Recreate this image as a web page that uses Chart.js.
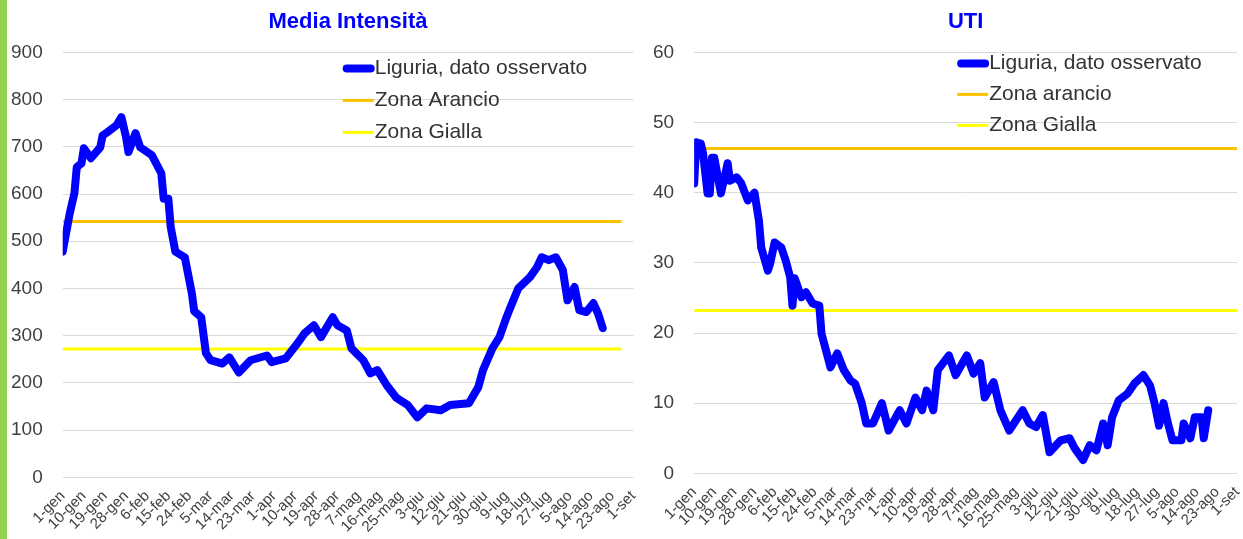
<!DOCTYPE html>
<html>
<head>
<meta charset="utf-8">
<script src="https://cdn.jsdelivr.net/npm/chart.js@4/dist/chart.umd.min.js"></script>
<style>
  html, body { margin: 0; padding: 0; background: #fff; overflow: hidden; }
  body { width: 1243px; height: 539px; position: relative; }
  .bar { position: absolute; left: 0; top: 0; width: 7px; height: 539px; background: #92d050; z-index: 5; }
  .box { position: absolute; top: 0; height: 539px; }
  #left { left: -11px; width: 659px; }
  #right { left: 626px; width: 626px; }
</style>
</head>
<body>
<div class="bar"></div>
<div class="box" id="left"><canvas id="intensita"></canvas></div>
<div class="box" id="right"><canvas id="uti"></canvas></div>
<script>
// tick labels, one every 9 days from 1 Jan (day 0) to 1 Sep (day 243)
const tickLabels = ['1-gen','10-gen','19-gen','28-gen','6-feb','15-feb','24-feb','5-mar','14-mar','23-mar',
  '1-apr','10-apr','19-apr','28-apr','7-mag','16-mag','25-mag','3-giu','12-giu','21-giu','30-giu',
  '9-lug','18-lug','27-lug','5-ago','14-ago','23-ago','1-set'];

// Media Intensità, observed (day index -> value)
const intDays = [0,3,5,6,8,9,12,16,17,19,23,25,27,28,31,33,38,42,43,45,46,48,52,55,56,59,61,63,68,71,75,80,
  87,89,95,100,103,107,110,115,117,121,123,128,131,134,138,142,147,151,155,161,165,173,177,179,183,186,
  189,191,194,199,202,204,207,210,213,215,218,220,223,226,228,230];
const intValues = [478,559,602,657,665,697,676,699,724,731,746,763,720,689,729,699,682,644,590,590,530,478,466,390,352,339,263,248,241,254,222,248,
  258,244,252,284,305,322,297,339,322,311,273,248,220,227,195,169,153,127,146,142,153,157,191,227,273,297,
  339,364,400,424,445,466,460,466,439,375,403,354,350,369,347,316];
const intArancio = 542;
const intGialla = 272;

// UTI, observed
const utiDays = [0,1,3,4,6,7,8,9,12,15,16,19,21,24,27,29,30,33,34,36,39,41,43,44,45,48,50,53,56,57,59,61,64,67,70,72,
  75,77,80,84,87,92,95,99,102,104,107,109,114,117,122,125,128,130,134,137,141,147,150,153,156,159,164,168,170,174,
  177,180,183,185,187,190,194,197,201,204,206,208,210,212,214,218,219,222,224,227,228,230];
const utiValues = [41.3,47.2,47,45.6,39.9,39.9,45,45,39.9,44.2,41.7,42.2,41.4,38.9,40,36,32.2,28.9,29.9,32.9,32.2,30.3,27.9,23.9,27.8,25.1,25.8,24.2,23.9,19.9,17.5,15.1,17.1,14.7,13.2,12.8,
  10,7.1,7.1,10,6.1,9,7.1,10.8,9,11.8,9,14.7,16.8,14,16.8,14.2,15.7,10.8,13,9,6.1,9,7.1,6.6,8.3,3,4.7,5,3.7,1.9,
  4,3.3,7.1,4,8,10.4,11.4,12.8,14,12.5,10,6.8,10,7.1,4.7,4.7,7.1,5,8,8,5,9];
const utiArancio = 46.3;
const utiGialla = 23.2;

const FONT = '"Liberation Sans", Arial, sans-serif';

// legend drawn inside the plot area, top right
const insideLegend = {
  id: 'insideLegend',
  afterDatasetsDraw(chart, args, opts) {
    const { ctx, chartArea } = chart;
    const x = chartArea.left + opts.x;
    let y = chartArea.top + opts.y;
    ctx.save();
    ctx.font = '21px ' + FONT;
    ctx.textBaseline = 'middle';
    ctx.textAlign = 'left';
    chart.data.datasets.forEach(ds => {
      const thick = ds.borderWidth > 4;
      ctx.strokeStyle = ds.borderColor;
      ctx.lineWidth = ds.borderWidth;
      ctx.lineCap = thick ? 'round' : 'butt';
      ctx.beginPath();
      ctx.moveTo(x + (thick ? 4 : 0), y);
      ctx.lineTo(x + (thick ? 28 : 31), y);
      ctx.stroke();
      ctx.fillStyle = '#333';
      ctx.fillText(ds.label, x + 32, y);
      y += opts.row;
    });
    ctx.restore();
  }
};

function pts(days, values) {
  return days.map((d, i) => ({ x: d, y: values[i] }));
}

function makeChart(id, title, observed, arancio, gialla, lineEnd, labels, yMax, yStep, legend, pad) {
  return new Chart(document.getElementById(id), {
    type: 'line',
    data: {
      datasets: [
        {
          label: 'Liguria, dato osservato',
          data: observed,
          borderColor: '#0000ff',
          borderWidth: 8,
          borderJoinStyle: 'round',
          borderCapStyle: 'round',
          pointRadius: 0,
          tension: 0
        },
        {
          label: labels[0],
          data: [{ x: 0, y: arancio }, { x: lineEnd, y: arancio }],
          borderColor: '#ffc000',
          borderWidth: 3,
          pointRadius: 0
        },
        {
          label: labels[1],
          data: [{ x: 0, y: gialla }, { x: lineEnd, y: gialla }],
          borderColor: '#ffff00',
          borderWidth: 3,
          pointRadius: 0
        }
      ]
    },
    options: {
      responsive: true,
      maintainAspectRatio: false,
      animation: false,
      layout: { padding: pad },
      plugins: {
        legend: { display: false },
        tooltip: { enabled: false },
        title: {
          display: true,
          text: title,
          fullSize: false,
          color: '#0000ff',
          font: { family: FONT, size: 22, weight: 'bold' },
          padding: { top: 9, bottom: 17 }
        },
        insideLegend: legend
      },
      scales: {
        x: {
          type: 'linear',
          min: 0,
          max: 243,
          grid: { display: false },
          border: { display: false },
          ticks: {
            stepSize: 9,
            autoSkip: false,
            minRotation: 45,
            maxRotation: 45,
            padding: 2,
            color: '#404040',
            font: { family: FONT, size: 15 },
            callback: v => tickLabels[v / 9] ?? ''
          }
        },
        y: {
          min: 0,
          max: yMax,
          grid: { color: '#d9d9d9', drawTicks: false },
          border: { display: false },
          ticks: {
            stepSize: yStep,
            padding: 20,
            color: '#404040',
            font: { family: FONT, size: 19 }
          }
        }
      }
    },
    plugins: [insideLegend]
  });
}

makeChart('intensita', 'Media Intensità', pts(intDays, intValues), intArancio, intGialla, 238,
  ['Zona Arancio', 'Zona Gialla'], 900, 100, { x: 280, y: 16, row: 32 },
  { left: 2, right: 3, top: 0, bottom: 1 });

makeChart('uti', 'UTI', pts(utiDays, utiValues), utiArancio, utiGialla, 243,
  ['Zona arancio', 'Zona Gialla'], 60, 10, { x: 263, y: 11, row: 31 },
  { left: 7, right: 6, top: 0, bottom: 5 });
</script>
</body>
</html>
